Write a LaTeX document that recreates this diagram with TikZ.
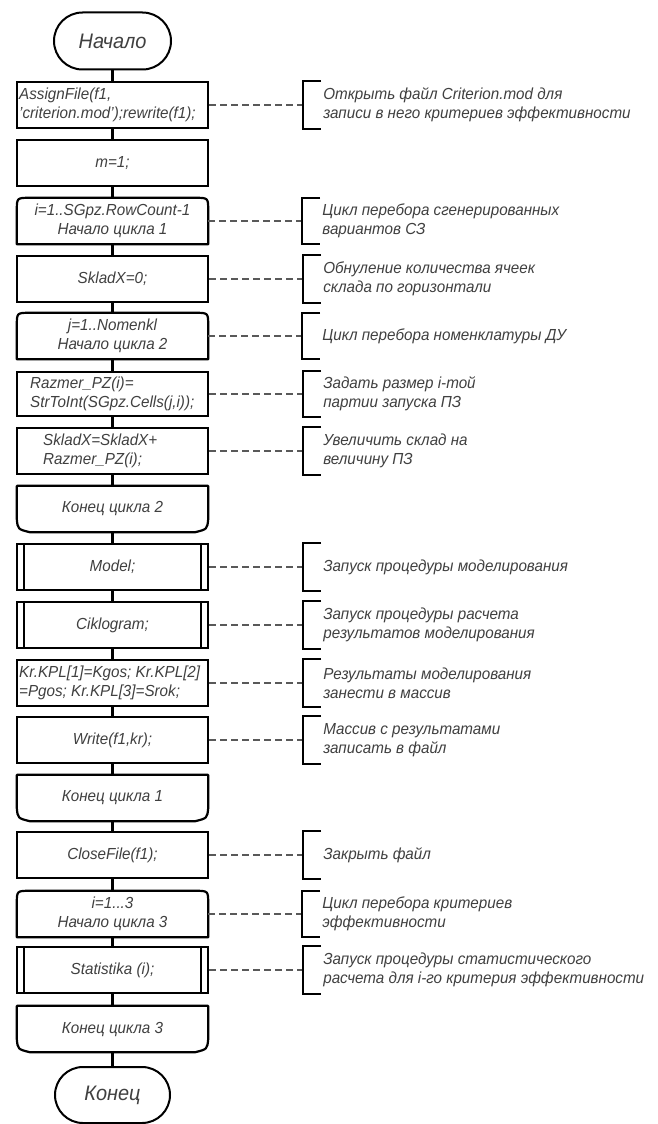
\documentclass[tikz,border=0pt]{standalone}
\usepackage{fontspec}
\setmainfont{Liberation Sans}[FakeStretch=0.95]
\usetikzlibrary{calc,shapes.misc}
\tikzset{
  txt/.style={font=\itshape\fontsize{16}{19}\selectfont, text=black!75},
  blk/.style={txt, draw=none, minimum width=191pt, minimum height=46pt, inner sep=0pt, align=center},
  proc/.style={blk, draw=black, line width=2.2pt},
  outline/.style={draw=black, line width=2.2pt, line join=round},
  term/.style={rounded rectangle, draw=black, line width=2pt, minimum width=117pt, minimum height=57pt, inner sep=0pt, font=\itshape\fontsize{21}{24}\selectfont, text=black!75},
  conn/.style={draw=black, line width=2.2pt},
  dashline/.style={draw=black!65, line width=1.2pt, dash pattern=on 7pt off 4pt},
  brk/.style={draw=black, line width=2.2pt, line join=miter},
  cmt/.style={txt, anchor=west, align=left, inner sep=0pt},
  ltxt/.style={txt, anchor=west, align=left, inner sep=0pt}
}
\newcommand\loopstart[1]{%
  \draw[outline] (#1.south west) -- ($(#1.north west)+(0,13)$)
    .. controls (#1.north west) .. ($(#1.north west)+(13,0)$)
    -- ($(#1.north east)+(-13,0)$)
    .. controls (#1.north east) .. ($(#1.north east)+(0,13)$)
    -- (#1.south east) -- cycle;}
\newcommand\loopend[1]{%
  \draw[outline] (#1.north west) -- ($(#1.south west)+(0,-13)$)
    .. controls ($(#1.south west)+(1,-3)$) .. ($(#1.south west)+(13,0)$)
    -- ($(#1.south east)+(-13,0)$)
    .. controls ($(#1.south east)+(-1,-3)$) .. ($(#1.south east)+(0,-13)$)
    -- (#1.north east) -- cycle;}
\newcommand\predef[1]{%
  \draw[outline] ($(#1.north west)+(8,0)$) -- ($(#1.south west)+(8,0)$);
  \draw[outline] ($(#1.north east)+(-8,0)$) -- ($(#1.south east)+(-8,0)$);}
\newcommand\mycomment[2]{%
  \coordinate (k#1) at ($(#1.east)+(94,0)$);
  \draw[dashline] (#1.east) -- (k#1);
  \draw[brk] ($(k#1 |- #1.north)+(18,0)$) -- (k#1 |- #1.north) -- (k#1 |- #1.south) -- ++(18,0);
  \node[cmt] (c#1) at ($(k#1)+(20,0)$) {#2};}
\begin{document}
\begin{tikzpicture}[x=1pt,y=-1pt]
\useasboundingbox (0,0) rectangle (658,1124);
\fill[white] (0,0) rectangle (658,1124);

\node[term] (start) at (112.5,41) {Начало};

\node[proc] (n1) at (112.5,105) {};
\node[ltxt] (n1t) at (19,105) {AssignFile(f1,\\'criterion.mod');rewrite(f1);};
\node[proc] (n2) at (112.5,163) {m=1;};
\node[blk] (n3) at (112.5,221) {i=1..SGpz.RowCount-1\\Начало цикла 1};
\node[proc] (n4) at (112.5,279) {SkladX=0;};
\node[blk] (n5) at (112.5,336) {j=1..Nomenkl\\Начало цикла 2};
\node[proc, minimum height=44pt] (n6) at (112.5,394) {};
\node[ltxt] (n6t) at (30,394) {Razmer\_PZ(i)=\\StrToInt(SGpz.Cells(j,i));};
\node[proc] (n7) at (112.5,451) {};
\node[ltxt] (n7t) at (43,451) {SkladX=SkladX+\\Razmer\_PZ(i);};
\node[blk] (n8) at (112.5,509) {Конец цикла 2};
\node[proc] (n9) at (112.5,567) {Model;};
\node[proc] (n10) at (112.5,625) {Ciklogram;};
\node[proc] (n11) at (112.5,683) {};
\node[ltxt] (n11t) at (19,683) {Kr.KPL[1]=Kgos; Kr.KPL[2]\\=Pgos; Kr.KPL[3]=Srok;};
\node[proc] (n12) at (112.5,740) {Write(f1,kr);};
\node[blk] (n13) at (112.5,798) {Конец цикла 1};
\node[proc] (n14) at (112.5,855) {CloseFile(f1);};
\node[blk] (n15) at (112.5,914) {i=1...3\\Начало цикла 3};
\node[proc] (n16) at (112.5,970) {Statistika (i);};
\node[blk] (n17) at (112.5,1029) {Конец цикла 3};

\node[term, minimum width=115pt, minimum height=56pt] (end) at (112.5,1095) {Конец};

\loopstart{n3}
\loopstart{n5}
\loopstart{n15}
\loopend{n8}
\loopend{n13}
\loopend{n17}
\predef{n9}
\predef{n10}
\predef{n16}

\draw[conn] (start.south) -- (n1.north);
\foreach \a/\b in {n1/n2,n2/n3,n3/n4,n4/n5,n5/n6,n6/n7,n7/n8,n8/n9,n9/n10,n10/n11,n11/n12,n12/n13,n13/n14,n14/n15,n15/n16,n16/n17}
  \draw[conn] (\a.south) -- (\b.north);
\draw[conn] (n17.south) -- (end.north);

\mycomment{n1}{Открыть файл Criterion.mod для\\записи в него критериев эффективности}
\mycomment{n3}{Цикл перебора сгенерированных\\вариантов СЗ}
\mycomment{n4}{Обнуление количества ячеек\\склада по горизонтали}
\mycomment{n5}{Цикл перебора номенклатуры ДУ}
\mycomment{n6}{Задать размер i-той\\партии запуска ПЗ}
\mycomment{n7}{Увеличить склад на\\величину ПЗ}
\mycomment{n9}{Запуск процедуры моделирования}
\mycomment{n10}{Запуск процедуры расчета\\результатов моделирования}
\mycomment{n11}{Результаты моделирования\\занести в массив}
\mycomment{n12}{Массив с результатами\\записать в файл}
\mycomment{n14}{Закрыть файл}
\mycomment{n15}{Цикл перебора критериев\\эффективности}
\mycomment{n16}{Запуск процедуры статистического\\расчета для i-го критерия эффективности}
\end{tikzpicture}
\end{document}
